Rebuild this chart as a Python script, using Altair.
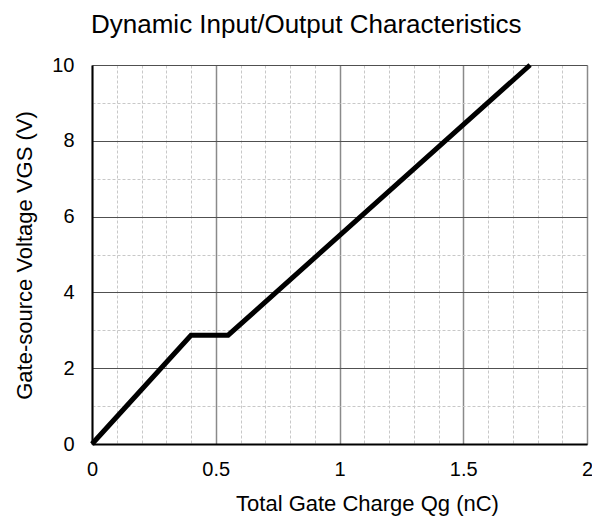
import altair as alt
import pandas as pd

# Data
qg = [0.0, 0.40, 0.55, 1.77]
vgs = [0.0, 2.87, 2.87, 10.0]

x_major = [0, 0.5, 1, 1.5, 2]
x_minor = [0, 0.1, 0.2, 0.3, 0.4, 0.5, 0.6, 0.7, 0.8, 0.9, 1.0,
           1.1, 1.2, 1.3, 1.4, 1.5, 1.6, 1.7, 1.8, 1.9, 2.0]
y_major = [0, 2, 4, 6, 8, 10]
y_minor = [0, 1, 2, 3, 4, 5, 6, 7, 8, 9, 10]

df = pd.DataFrame({"qg": qg, "vgs": vgs})
FONT = "Liberation Sans"

xs = alt.Scale(domain=[0, 2], nice=False, zero=False)
ys = alt.Scale(domain=[0, 10], nice=False, zero=False)

minor = alt.Chart(df).mark_line(strokeOpacity=0).encode(
    x=alt.X("qg:Q", scale=xs, axis=alt.Axis(
        orient="bottom", values=x_minor, grid=True, gridColor="#c8c8c8",
        gridDash=[3, 2], gridWidth=1, labels=False, ticks=False,
        domain=False, title=None)),
    y=alt.Y("vgs:Q", scale=ys, axis=alt.Axis(
        orient="left", values=y_minor, grid=True, gridColor="#c8c8c8",
        gridDash=[3, 2], gridWidth=1, labels=False, ticks=False,
        domain=False, title=None)),
)

major = alt.Chart(df).mark_line(color="black", strokeWidth=5).encode(
    x=alt.X("qg:Q", scale=xs, axis=alt.Axis(
        orient="bottom", values=x_major, format=".1~f", grid=True,
        gridColor="#8a8a8a", gridWidth=1.5, ticks=False, domain=True,
        domainColor="black", domainWidth=2, labelFontSize=20, labelPadding=15,
        labelColor="black", labelFont=FONT, labelFlush=False,
        title="Total Gate Charge Qg (nC)", titleFont=FONT, titleFontSize=22,
        titleFontWeight="normal", titleColor="black", titleX=275, titleY=66,
        titleBaseline="alphabetic", titleAlign="center")),
    y=alt.Y("vgs:Q", scale=ys, axis=alt.Axis(
        orient="left", values=y_major, format="d", grid=True,
        gridColor="#505050", gridWidth=1, ticks=False, domain=True,
        domainColor="black", domainWidth=2, labelFontSize=20, labelPadding=18,
        labelColor="black", labelFont=FONT, labelFlush=False,
        title="Gate-source Voltage VGS (V)", titleFont=FONT, titleFontSize=22,
        titleFontWeight="normal", titleColor="black", titleX=-68, titleY=190,
        titleAngle=270, titleBaseline="middle", titleAlign="center")),
)

chart = alt.layer(minor, major).resolve_axis(
    x="independent", y="independent"
).properties(
    width=495, height=379,
    autosize=alt.AutoSizeParams(type="none"),
    padding={"left": 84, "top": 57, "right": 5, "bottom": 73},
    title=alt.TitleParams("Dynamic Input/Output Characteristics", font=FONT,
                          fontSize=26, fontWeight="normal", color="black",
                          anchor="start", frame="group", dx=-1, dy=33,
                          baseline="alphabetic", offset=29),
).configure_view(stroke="#505050", strokeWidth=1).configure(background="white")

chart.save("out.html", embed_options={"renderer": "svg", "actions": False})
